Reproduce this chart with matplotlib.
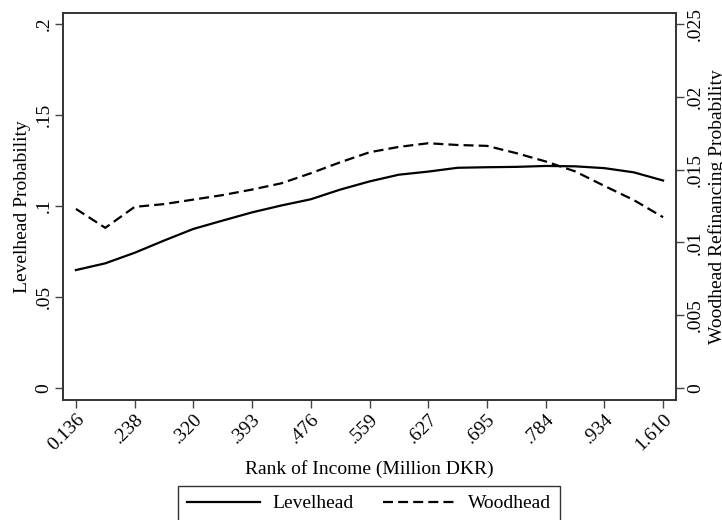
import matplotlib
matplotlib.use("Agg")
import matplotlib.pyplot as plt

plt.rcParams['font.family'] = ['Liberation Serif', 'DejaVu Serif']

income_ticks = ["0.136", ".238", ".320", ".393", ".476", ".559", ".627", ".695", ".784", ".934", "1.610"]
rank = list(range(21))
levelhead = [0.0648, 0.0685, 0.0743, 0.0810, 0.0874, 0.0920, 0.0965, 0.1003, 0.1037, 0.1090,
             0.1135, 0.1172, 0.1189, 0.1210, 0.1213, 0.1215, 0.1220, 0.1218, 0.1208, 0.1185, 0.1140]
woodhead = [0.01230, 0.01100, 0.01244, 0.01263, 0.01294, 0.01325, 0.01363, 0.01406, 0.01475, 0.01550,
            0.01619, 0.01656, 0.01681, 0.01669, 0.01663, 0.01613, 0.01556, 0.01488, 0.01388, 0.01291, 0.01173]
left_ticks = [0, 0.05, 0.1, 0.15, 0.2]
left_labels = ["0", ".05", ".1", ".15", ".2"]
right_ticks = [0, 0.005, 0.01, 0.015, 0.02, 0.025]
right_labels = ["0", ".005", ".01", ".015", ".02", ".025"]

fig = plt.figure(figsize=(7.22, 5.2), dpi=100)
ax = fig.add_axes([63/722, 120/520, (676-63)/722, (400-13)/520])
ax2 = ax.twinx()

fs = 14
l1, = ax.plot(rank, levelhead, color='black', lw=1.6, solid_joinstyle='round')
l2, = ax2.plot(rank, woodhead, color='black', lw=1.6, linestyle=(0, (4.5, 2.3)))

ax.set_xlim(-0.44, 20.44)
ylo, yhi = -12/1820, 0.2 + 11/1820
ax.set_ylim(ylo, yhi)
ax2.set_ylim(ylo/8, yhi/8)

ax.set_xticks(rank[::2])
ax.set_xticklabels(income_ticks, rotation=45, ha='right', rotation_mode='anchor', fontsize=fs)
ax.set_yticks(left_ticks)
ax.set_yticklabels(left_labels, rotation=90, va='center', fontsize=fs)
ax2.set_yticks(right_ticks)
ax2.set_yticklabels(right_labels, rotation=90, va='center', fontsize=fs)

for a in (ax, ax2):
    a.tick_params(direction='out', length=6, width=1, color='#444444')
    for s in a.spines.values():
        s.set_linewidth(1.2)
        s.set_color('#333333')
ax.tick_params(axis='y', pad=1.5)
ax2.tick_params(axis='y', pad=2)
ax.tick_params(axis='x', pad=2)

ax.set_xlabel("Rank of Income (Million DKR)", fontsize=fs, labelpad=4)
ax.set_ylabel("Levelhead Probability", fontsize=fs, labelpad=3)
ax2.set_ylabel("Woodhead Refinancing Probability", fontsize=fs, labelpad=3)

leg = fig.legend([l1, l2], ["Levelhead", "Woodhead"], loc='upper center', bbox_to_anchor=(369/722, 1 - 486/520),
                 ncol=2, frameon=True, fancybox=False, fontsize=fs, handlelength=3.75,
                 columnspacing=1.5, borderpad=0.45, handletextpad=0.65, borderaxespad=0)
leg.get_frame().set_edgecolor('black')
leg.get_frame().set_linewidth(1.0)

fig.savefig("out.png", dpi=100)
